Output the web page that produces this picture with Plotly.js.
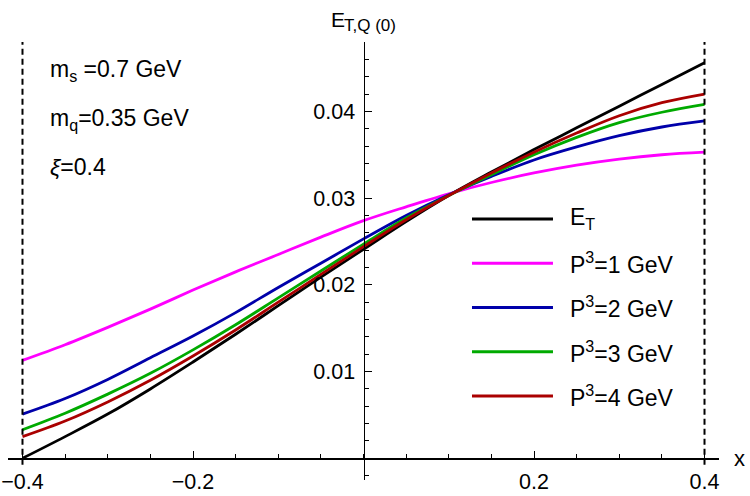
<!DOCTYPE html>
<html>
<head>
<meta charset="utf-8">
<script src="https://cdn.plot.ly/plotly-3.0.1.min.js"></script>
<style>
  html, body { margin: 0; padding: 0; background: #ffffff; }
  #chart { width: 750px; height: 496px; }
</style>
</head>
<body>
<div id="chart"></div>
<script>
// Momentum fraction grid
const xValues = [-0.40, -0.35, -0.30, -0.25, -0.20, -0.15, -0.10, -0.05, 0.00,
                  0.05,  0.10,  0.15,  0.20,  0.25,  0.30,  0.35,  0.40];

// E_T and its quasi counterparts at increasing P^3
const eT = [0.0000, 0.0025, 0.0051, 0.0080, 0.0111, 0.0143, 0.0176, 0.0209, 0.0241,
            0.0273, 0.0303, 0.0330, 0.0356, 0.0381, 0.0406, 0.0431, 0.0456];
const p3_1 = [0.0113, 0.0131, 0.0151, 0.0172, 0.0194, 0.0215, 0.0235, 0.0255, 0.0274,
              0.0290, 0.0305, 0.0318, 0.0329, 0.0338, 0.0345, 0.0350, 0.0353];
const p3_2 = [0.0051, 0.0069, 0.0091, 0.0116, 0.0141, 0.0168, 0.0197, 0.0225, 0.0253,
              0.0280, 0.0304, 0.0325, 0.0344, 0.0359, 0.0372, 0.0382, 0.0389];
const p3_3 = [0.0033, 0.0052, 0.0074, 0.0098, 0.0125, 0.0154, 0.0185, 0.0216, 0.0247,
              0.0277, 0.0303, 0.0327, 0.0350, 0.0370, 0.0387, 0.0399, 0.0408];
const p3_4 = [0.0025, 0.0043, 0.0065, 0.0090, 0.0118, 0.0148, 0.0180, 0.0212, 0.0244,
              0.0275, 0.0303, 0.0329, 0.0353, 0.0375, 0.0395, 0.0410, 0.0420];

const seriesNames = ["E<sub>T</sub>", "P<sup>3</sup>=1 GeV", "P<sup>3</sup>=2 GeV",
                     "P<sup>3</sup>=3 GeV", "P<sup>3</sup>=4 GeV"];
const seriesData = [eT, p3_1, p3_2, p3_3, p3_4];
const seriesColors = ["#000000", "#ff00ff", "#0000aa", "#00aa00", "#aa0000"];

// Support boundaries x = ±ξ
const supportEdges = [-0.4, 0.4];

// Axis ticks
const xTickVals = [-0.4, -0.2, 0.2, 0.4];
const xTickText = ["\u22120.4", "\u22120.2", "0.2", "0.4"];
const yTickVals = [0.01, 0.02, 0.03, 0.04];
const yTickText = ["0.01", "0.02", "0.03", "0.04"];

// Parameter labels
const paramLabels = ["m<sub>s</sub> =0.7 GeV", "m<sub>q</sub>=0.35 GeV", "<i>\u03be</i>=0.4"];

// Vertical axis name, main letter and its subscript
const yNameMain = "E";
const yNameSub = "T,Q (0)";

const FONT = "Liberation Sans, Arial, sans-serif";
const xRange = [-0.417, 0.417];
const yRange = [-0.0025, 0.048];

const traces = seriesData.map((ys, i) => ({
  x: xValues,
  y: ys,
  type: "scatter",
  mode: "lines",
  name: seriesNames[i],
  line: { color: seriesColors[i], width: 2.8, shape: "spline", smoothing: 1 },
  showlegend: false,
  hoverinfo: "skip"
}));

const shapes = [];
const annotations = [];

// dashed verticals at the support edges
supportEdges.forEach(xe => {
  shapes.push({
    type: "line", xref: "x", yref: "paper",
    x0: xe, x1: xe, y0: 0.035, y1: 1,
    line: { color: "#000000", width: 2, dash: "6px,4px" }
  });
});

// hand-built legend: long line samples with labels
const legTop = 0.596, legStep = 0.101;
seriesNames.forEach((nm, i) => {
  const yy = legTop - i * legStep;
  shapes.push({
    type: "line", xref: "paper", yref: "paper",
    x0: 0.6526, x1: 0.7665, y0: yy, y1: yy,
    line: { color: seriesColors[i], width: 3 }
  });
  annotations.push({
    xref: "paper", yref: "paper", x: 0.7876, y: yy,
    xanchor: "left", yanchor: "middle", showarrow: false,
    text: nm, font: { family: FONT, size: 23, color: "#000000" }
  });
});

// parameter block, upper left
const paramY = [0.936, 0.824, 0.715];
paramLabels.forEach((t, i) => {
  annotations.push({
    xref: "paper", yref: "paper", x: 0.056, y: paramY[i],
    xanchor: "left", yanchor: "middle", showarrow: false,
    text: t, font: { family: FONT, size: 23, color: "#000000" }
  });
});

// vertical axis name above the axis, with a large subscript
annotations.push({
  xref: "x", yref: "paper", x: 0, y: 1, xanchor: "right", yanchor: "middle",
  xshift: -18, yshift: 23, showarrow: false, borderpad: 0,
  text: yNameMain, font: { family: FONT, size: 21, color: "#000000" }
});
annotations.push({
  xref: "x", yref: "paper", x: 0, y: 1, xanchor: "left", yanchor: "middle",
  xshift: -21, yshift: 17, showarrow: false, borderpad: 0,
  text: yNameSub, font: { family: FONT, size: 17, color: "#000000" }
});
// horizontal axis name at the right end
annotations.push({
  xref: "paper", yref: "y", x: 1, y: 0, xanchor: "left", yanchor: "middle",
  xshift: 13, showarrow: false,
  text: "x", font: { family: FONT, size: 22, color: "#000000" }
});

const layout = {
  width: 750, height: 496,
  margin: { l: 8, r: 31, t: 42, b: 16, pad: 0 },
  paper_bgcolor: "#ffffff", plot_bgcolor: "#ffffff",
  showlegend: false,
  font: { family: FONT, size: 21, color: "#000000" },
  xaxis: {
    range: xRange, anchor: "free",
    position: (0 - yRange[0]) / (yRange[1] - yRange[0]),
    showgrid: false, zeroline: false,
    showline: true, linecolor: "#000000", linewidth: 1.4,
    tickmode: "array", tickvals: xTickVals, ticktext: xTickText,
    ticks: "inside", ticklen: 7, tickwidth: 1, tickcolor: "#000000",
    ticklabelstandoff: 3,
    minor: { tickmode: "linear", tick0: 0, dtick: 0.05, ticks: "inside", ticklen: 4, tickwidth: 1, tickcolor: "#000000" },
    tickfont: { family: FONT, size: 21.5, color: "#000000" }
  },
  yaxis: {
    range: yRange, anchor: "free",
    position: (0 - xRange[0]) / (xRange[1] - xRange[0]),
    side: "left",
    showgrid: false, zeroline: false,
    showline: true, linecolor: "#000000", linewidth: 1.4,
    tickmode: "array", tickvals: yTickVals, ticktext: yTickText,
    ticks: "inside", ticklen: 7, tickwidth: 1, tickcolor: "#000000",
    ticklabelstandoff: 4,
    minor: { tickmode: "linear", tick0: 0, dtick: 0.002, ticks: "inside", ticklen: 4, tickwidth: 1, tickcolor: "#000000" },
    tickfont: { family: FONT, size: 21.5, color: "#000000" }
  },
  shapes: shapes,
  annotations: annotations
};

Plotly.newPlot("chart", traces, layout, { staticPlot: true, displayModeBar: false });
</script>
</body>
</html>
